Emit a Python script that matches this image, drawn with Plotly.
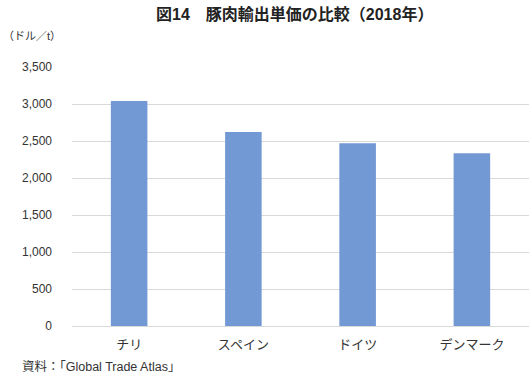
import plotly.graph_objects as go

categories = ["チリ", "スペイン", "ドイツ", "デンマーク"]
values = [3040, 2620, 2470, 2335]
tick_vals = [0, 500, 1000, 1500, 2000, 2500, 3000, 3500]
tick_text = ["0", "500", "1,000", "1,500", "2,000", "2,500", "3,000", "3,500"]

font_family = "Liberation Sans, Noto Sans CJK JP, sans-serif"

W, H = 529, 379
ML, MR, MT, MB = 72, 0, 67, 53
plot_h = H - MT - MB
plot_w = W - ML - MR


def px_x(px):
    return (px - ML) / plot_w


def px_y(py):
    return (H - MB - py) / plot_h


fig = go.Figure(go.Bar(x=categories, y=values, marker_color="#7399D4",
                       marker_line_width=0, hoverinfo="skip"))

fig.update_layout(
    width=W, height=H,
    margin=dict(l=ML, r=MR, t=MT, b=MB),
    paper_bgcolor="white", plot_bgcolor="white",
    bargap=0.68,
    showlegend=False,
    font=dict(family=font_family, size=12, color="#333333"),
    annotations=[
        dict(text="<b>図14　豚肉輸出単価の比較（2018年）</b>", x=px_x(294), xref="paper", xanchor="center",
             y=px_y(14), yref="paper", yanchor="middle", showarrow=False,
             font=dict(size=16, color="#222222")),
        dict(text="（ドル／t）", x=px_x(1), xref="paper", xanchor="left",
             y=px_y(36), yref="paper", yanchor="middle", showarrow=False,
             font=dict(size=11, color="#333333")),
        dict(text="資料：「Global Trade Atlas」", x=px_x(20), xref="paper", xanchor="left",
             y=px_y(367), yref="paper", yanchor="middle", showarrow=False,
             font=dict(size=12.5, color="#333333")),
    ],
)

fig.update_yaxes(range=[0, 3500], tickvals=tick_vals, ticktext=tick_text,
                 showgrid=True, gridcolor="#D9D9D9", gridwidth=1,
                 zeroline=True, zerolinecolor="#D9D9D9", zerolinewidth=1,
                 showline=False, ticks="", ticklabelstandoff=19,
                 tickfont=dict(size=12, color="#333333"))
fig.update_xaxes(showgrid=False, showline=False, ticks="",
                 tickfont=dict(size=13, color="#333333"), ticklabelstandoff=9)

fig.write_html("out.html", config={"displayModeBar": False},
               post_script="document.body.style.margin='0';")
